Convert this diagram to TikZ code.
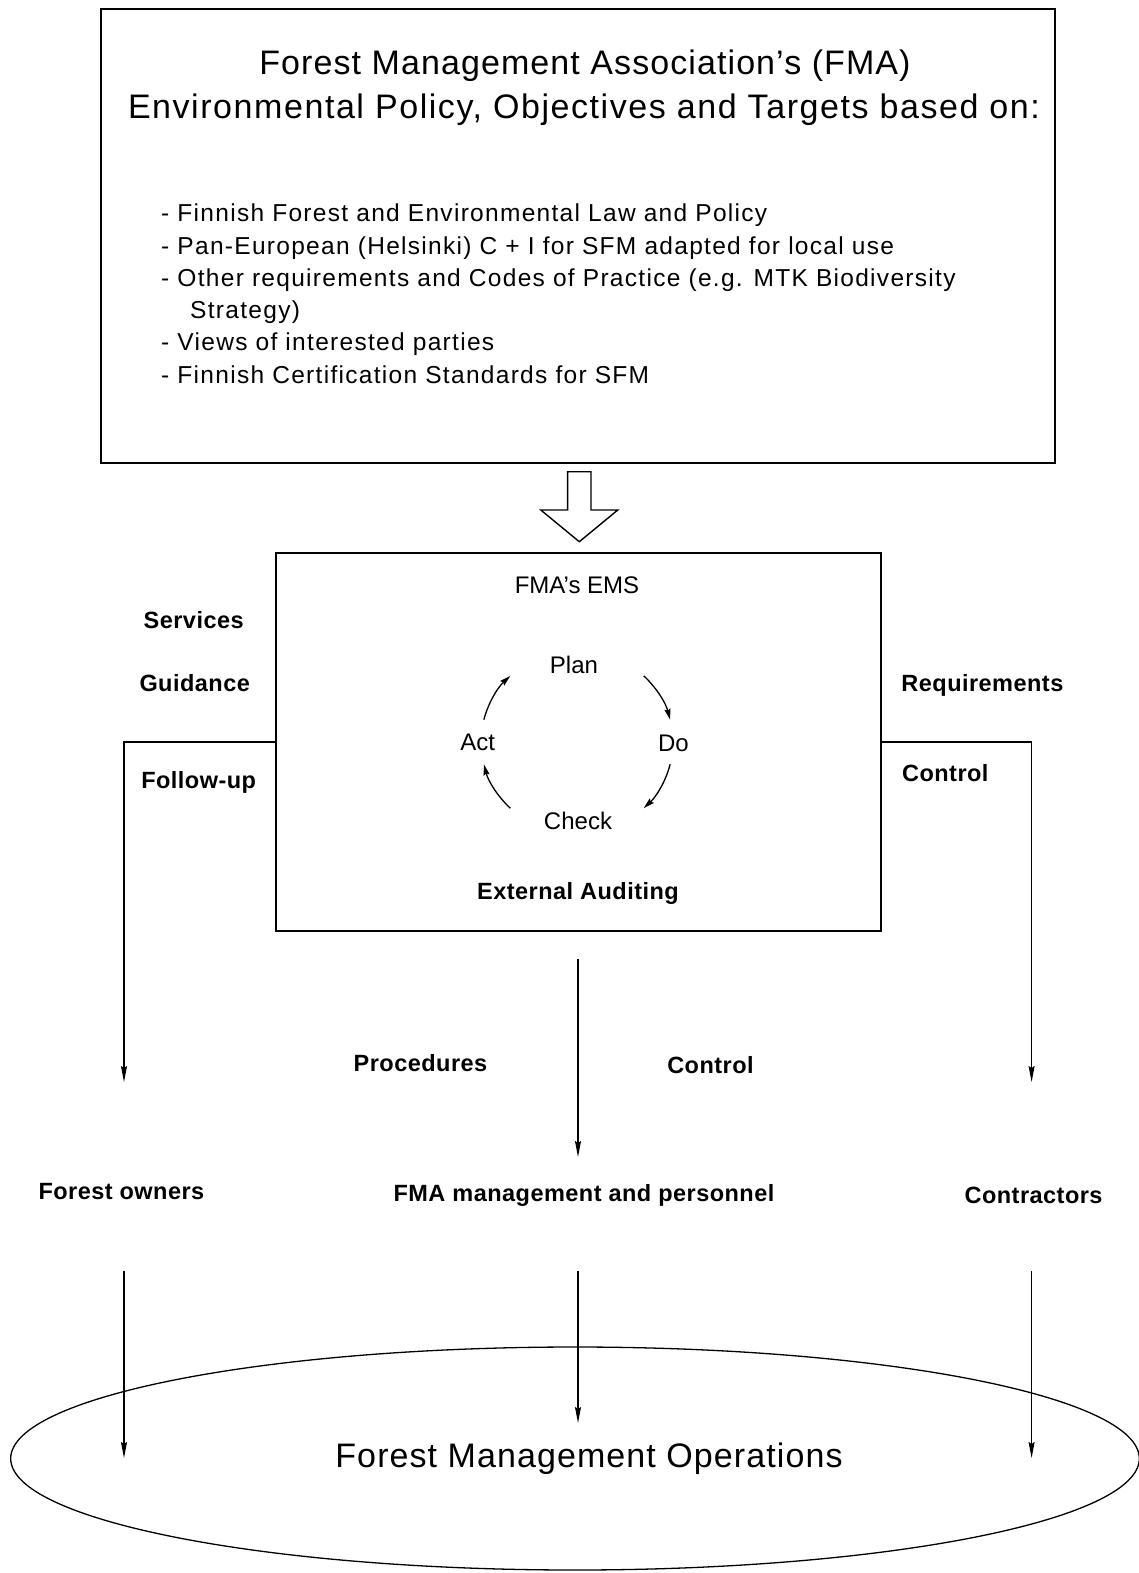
\documentclass[tikz,border=0pt]{standalone}
\usepackage{fontspec}
\setmainfont{Liberation Sans}
\usetikzlibrary{arrows.meta,shapes.geometric}
\newcommand{\lsp}[1]{\addfontfeatures{LetterSpace=#1}}
\begin{document}
\begin{tikzpicture}[x=1pt,y=-1pt,
  box/.style={draw,line width=1.6pt,inner sep=0pt},
  arr/.style={line width=1.4pt,-{Stealth[length=16pt,width=6pt,inset=2pt]}},
  carr/.style={line width=1.3pt,-{Stealth[length=11pt,width=6pt,inset=1.5pt]}},
  lbl/.style={font=\fontsize{23.5}{28}\selectfont\bfseries\lsp{2},anchor=base,inner sep=0pt},
  txt/.style={font=\fontsize{24}{28}\selectfont,anchor=base,inner sep=0pt},
  big/.style={font=\fontsize{34}{40}\selectfont\lsp{3.2},anchor=base,inner sep=0pt},
  item/.style={font=\fontsize{24.5}{28}\selectfont\lsp{5.3},anchor=base west,inner sep=0pt}]
\useasboundingbox (0,0) rectangle (1139,1573);
% top policy box
\node[box,minimum width=954,minimum height=454] (policy) at (578,236) {};
\node[big] (t1) at (585,74.5) {Forest Management Association’s (FMA)};
\node[big,font=\fontsize{34}{40}\selectfont\lsp{4.6}] (t2) at (584,118.5) {Environmental Policy, Objectives and Targets based on:};
\node[item] (i1) at (161,221) {- Finnish Forest and Environmental Law and Policy};
\node[item] (i2) at (161,254) {- Pan-European (Helsinki) C + I for SFM adapted for local use};
\node[item] (i3) at (161,286.5) {- Other requirements and Codes of Practice (e.g. MTK Biodiversity};
\node[item] (i3b) at (190,318.5) {Strategy)};
\node[item] (i4) at (161,350.5) {- Views of interested parties};
\node[item] (i5) at (161,383) {- Finnish Certification Standards for SFM};
% hollow arrow
\draw[line width=1.4pt,fill=white] (567.6,471.7) -- (591,471.7) -- (591,510) -- (617.8,510)
  -- (579.3,541.7) -- (540.8,510) -- (567.6,510) -- cycle;
% EMS box
\node[box,minimum width=605,minimum height=378] (ems) at (578.5,742) {};
\node[txt] (emst) at (577,593.5) {FMA’s EMS};
\node[txt] (plan) at (574,673) {Plan};
\node[txt] (do) at (673.4,751) {Do};
\node[txt] (act) at (477.7,750) {Act};
\node[txt] (check) at (578,829.5) {Check};
\node[lbl] (ext) at (578,899) {External Auditing};
\coordinate (cyc) at (577,742);
\draw[carr] ([shift={(-46:96 and 92)}]cyc) arc[start angle=-46,end angle=-14,x radius=96,y radius=92];
\draw[carr] ([shift={(14:96 and 92)}]cyc) arc[start angle=14,end angle=46,x radius=96,y radius=92];
\draw[carr] ([shift={(134:96 and 92)}]cyc) arc[start angle=134,end angle=166,x radius=96,y radius=92];
\draw[carr] ([shift={(194:96 and 92)}]cyc) arc[start angle=194,end angle=226,x radius=96,y radius=92];
% side labels
\node[lbl] (serv) at (193.7,628) {Services};
\node[lbl] (guid) at (194.7,691) {Guidance};
\node[lbl] (foll) at (198.7,788) {Follow-up};
\node[lbl] (req) at (982.4,691) {Requirements};
\node[lbl] (ctrl1) at (945.3,781) {Control};
\node[lbl] (proc) at (420.5,1071) {Procedures};
\node[lbl] (ctrl2) at (710.5,1073) {Control};
% lower labels
\node[lbl] (owners) at (121.4,1199.5) {Forest owners};
\node[lbl] (pers) at (584,1201) {FMA management and personnel};
\node[lbl] (contr) at (1033.6,1203.5) {Contractors};
% connectors
\coordinate (foin) at (124,1082);
\coordinate (coin) at (1031.6,1082);
\coordinate (ma) at (578,959);
\coordinate (mb) at (578,1157);
\draw[arr] (ems.west) -| (foin);
\draw[arr] (ems.east) -| (coin);
\draw[arr] (ma) -- (mb);
\coordinate (fo1) at (124,1271);
\coordinate (fo2) at (124,1458);
\coordinate (mg1) at (578,1271);
\coordinate (mg2) at (578,1423);
\coordinate (ct1) at (1031.6,1271);
\coordinate (ct2) at (1031.6,1458);
\draw[line width=1.3pt] (575,1458.5) ellipse [x radius=564.3,y radius=111.5];
\draw[arr] (fo1) -- (fo2);
\draw[arr] (mg1) -- (mg2);
\draw[arr] (ct1) -- (ct2);
\node[big] (fmo) at (589,1467) {Forest Management Operations};
\end{tikzpicture}
\end{document}
